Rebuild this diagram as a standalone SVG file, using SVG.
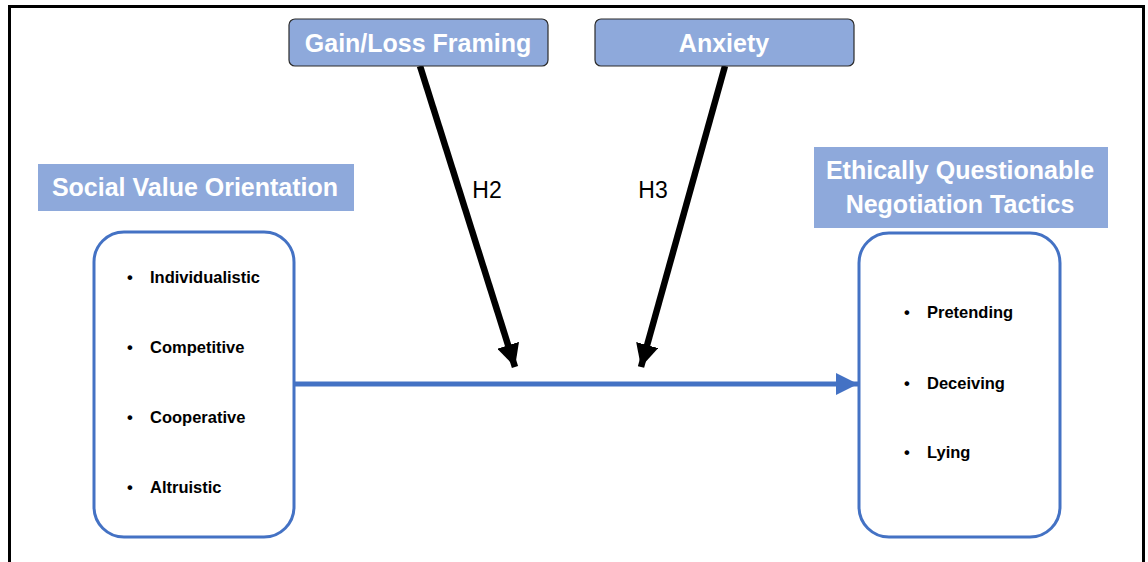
<svg xmlns="http://www.w3.org/2000/svg" width="1148" height="562" viewBox="0 0 1148 562">
  <defs>
    <style>
      .frame { fill: none; stroke: #000; stroke-width: 3; }
      .mod { fill: #8EA9DB; stroke: #2b2b2b; stroke-width: 1.2; }
      .label { fill: #8EA9DB; }
      .title { font-family: "Liberation Sans", Arial, sans-serif; font-weight: bold; font-size: 25px; fill: #fff; text-anchor: middle; }
      .box { fill: #fff; stroke: #4472C4; stroke-width: 3; }
      .item { font-family: "Liberation Sans", Arial, sans-serif; font-weight: bold; font-size: 16.5px; fill: #000; }
      .hyp { font-family: "Liberation Sans", Arial, sans-serif; font-size: 23px; fill: #000; text-anchor: middle; }
      .blk { stroke: #000; stroke-width: 6.5; fill: none; }
    </style>
    <marker id="blackHead" viewBox="0 0 10 10" refX="10" refY="5" markerWidth="3.5" markerHeight="3.5" markerUnits="strokeWidth" orient="auto">
      <path d="M0,0 L10,5 L0,10 Z" fill="#000"/>
    </marker>
    <marker id="blueHead" viewBox="0 0 10 10" refX="10" refY="5" markerWidth="4.4" markerHeight="4.4" markerUnits="strokeWidth" orient="auto">
      <path d="M0,0 L10,5 L0,10 Z" fill="#4472C4"/>
    </marker>
  </defs>

  <rect width="1148" height="562" fill="#fff"/>
  <!-- outer frame -->
  <path class="frame" d="M9.5,565 V6.5 H1143.5 V565"/>

  <!-- connectors -->
  <g id="connectors">
    <line x1="294" y1="384" x2="858" y2="384" stroke="#4472C4" stroke-width="5" marker-end="url(#blueHead)"/>
    <line class="blk" x1="420" y1="66" x2="515" y2="367" marker-end="url(#blackHead)"/>
    <line class="blk" x1="725" y1="66" x2="641" y2="367" marker-end="url(#blackHead)"/>
    <text class="hyp" x="487" y="198">H2</text>
    <text class="hyp" x="653" y="198">H3</text>
  </g>

  <g id="gain-loss">
    <rect class="mod" x="289" y="19" width="259" height="47" rx="6"/>
    <text class="title" x="418" y="52">Gain/Loss Framing</text>
  </g>

  <g id="anxiety">
    <rect class="mod" x="595" y="19" width="259" height="47" rx="6"/>
    <text class="title" x="724" y="52">Anxiety</text>
  </g>

  <g id="svo">
    <rect class="label" x="38" y="164" width="316" height="47"/>
    <text class="title" x="195" y="196">Social Value Orientation</text>
    <rect class="box" x="94" y="232" width="200" height="305" rx="30"/>
    <g class="item">
      <text x="127" y="283">•</text><text x="150" y="283">Individualistic</text>
      <text x="127" y="353">•</text><text x="150" y="353">Competitive</text>
      <text x="127" y="423">•</text><text x="150" y="423">Cooperative</text>
      <text x="127" y="493">•</text><text x="150" y="493">Altruistic</text>
    </g>
  </g>

  <g id="eqnt">
    <rect class="label" x="814" y="147" width="294" height="81"/>
    <text class="title" x="960" y="179">Ethically Questionable</text>
    <text class="title" x="960" y="213">Negotiation Tactics</text>
    <rect class="box" x="859" y="233" width="201" height="304" rx="30"/>
    <g class="item">
      <text x="904" y="318">•</text><text x="927" y="318">Pretending</text>
      <text x="904" y="389">•</text><text x="927" y="389">Deceiving</text>
      <text x="904" y="458">•</text><text x="927" y="458">Lying</text>
    </g>
  </g>
</svg>
